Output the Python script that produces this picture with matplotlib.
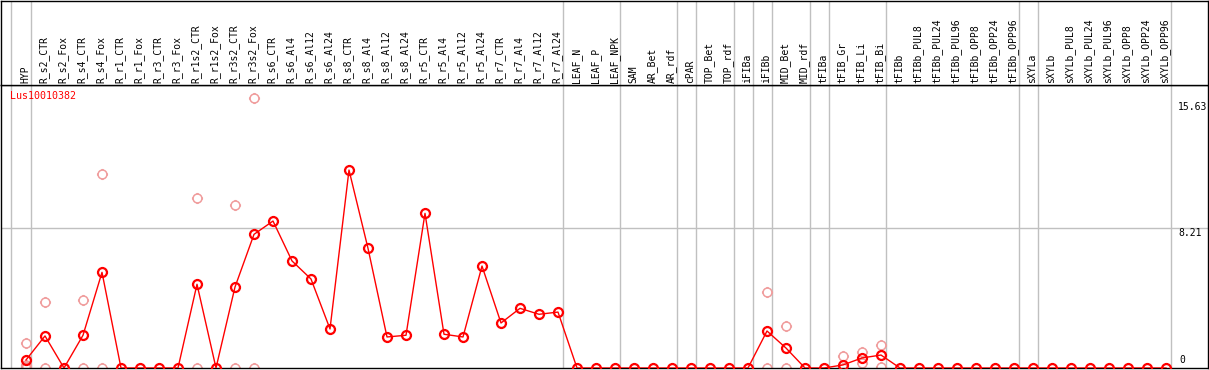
import matplotlib
matplotlib.use("Agg")
import matplotlib.pyplot as plt
from matplotlib.path import Path
from matplotlib.transforms import blended_transform_factory

# ---------------- data ----------------
categories = [
    "HYP", "R_s2_CTR", "R_s2_Fox", "R_s4_CTR", "R_s4_Fox", "R_r1_CTR", "R_r1_Fox",
    "R_r3_CTR", "R_r3_Fox", "R_r1s2_CTR", "R_r1s2_Fox", "R_r3s2_CTR", "R_r3s2_Fox",
    "R_s6_CTR", "R_s6_Al4", "R_s6_Al12", "R_s6_Al24", "R_s8_CTR", "R_s8_Al4",
    "R_s8_Al12", "R_s8_Al24", "R_r5_CTR", "R_r5_Al4", "R_r5_Al12", "R_r5_Al24",
    "R_r7_CTR", "R_r7_Al4", "R_r7_Al12", "R_r7_Al24", "LEAF_N", "LEAF_P", "LEAF_NPK",
    "SAM", "AR_Bet", "AR_rdf", "cPAR", "TOP_Bet", "TOP_rdf", "iFIBa", "iFIBb",
    "MID_Bet", "MID_rdf", "tFIBa", "tFIB_Gr", "tFIB_Li", "tFIB_Bi", "tFIBb",
    "tFIBb_PUL8", "tFIBb_PUL24", "tFIBb_PUL96", "tFIBb_OPP8", "tFIBb_OPP24",
    "tFIBb_OPP96", "sXYLa", "sXYLb", "sXYLb_PUL8", "sXYLb_PUL24", "sXYLb_PUL96",
    "sXYLb_OPP8", "sXYLb_OPP24", "sXYLb_OPP96",
]

mean_values = [
    0.47, 1.88, 0.0, 1.92, 5.61, 0.0, 0.0, 0.0, 0.0, 4.91, 0.0, 4.75, 7.84,
    8.62, 6.28, 5.22, 2.29, 11.61, 7.02, 1.82, 1.92, 9.07, 1.98, 1.82, 5.98,
    2.64, 3.50, 3.15, 3.28, 0.0, 0.0, 0.0,
    0.0, 0.0, 0.0, 0.0, 0.0, 0.0, 0.0, 2.17,
    1.17, 0.0, 0.0, 0.18, 0.59, 0.76, 0.0,
    0.0, 0.0, 0.0, 0.0, 0.0, 0.0, 0.0, 0.0,
    0.0, 0.0, 0.0, 0.0, 0.0, 0.0,
]

replicate_categories = [
    "HYP", "HYP", "HYP", "HYP",
    "R_s2_CTR", "R_s2_CTR", "R_s4_CTR", "R_s4_CTR", "R_s4_Fox", "R_s4_Fox",
    "R_r1s2_CTR", "R_r1s2_CTR", "R_r3s2_CTR", "R_r3s2_CTR", "R_r3s2_Fox", "R_r3s2_Fox",
    "iFIBb", "iFIBb", "MID_Bet", "MID_Bet",
    "tFIB_Gr", "tFIB_Gr", "tFIB_Li", "tFIB_Li", "tFIB_Bi", "tFIB_Bi",
]
replicate_values = [
    1.45, 0.20, 0.10, 0.0,
    3.85, 0.0, 3.99, 0.0, 11.36, 0.0,
    9.95, 0.0, 9.54, 0.0, 15.82, 0.0,
    4.46, 0.0, 2.44, 0.0,
    0.72, 0.0, 0.92, 0.30, 1.35, 0.08,
]

# last category of each separated group
group_ends = ["HYP", "R_r7_Al24", "LEAF_NPK", "AR_rdf", "cPAR", "TOP_rdf", "iFIBa",
              "iFIBb", "MID_rdf", "tFIBa", "tFIB_Bi", "tFIBb_OPP96", "sXYLa", "sXYLb_OPP96"]

y_tick_values = [15.63, 8.21, 0]
y_tick_labels = ["15.63", "8.21", "0"]
gene_name = "Lus10010382"

# ---------------- layout ----------------
W, H = 1209, 370
fig = plt.figure(figsize=(W / 100, H / 100), dpi=100)
fig.patch.set_facecolor("white")

def px_axes(x0, y0, x1, y1):
    return fig.add_axes([x0 / W, 1 - y1 / H, (x1 - x0) / W, (y1 - y0) / H])

ax = px_axes(1, 85, 1208, 368)
axt = px_axes(1, 0.5, 1208, 85)

x0_px, step_px = 26, 19
xlim = ((1 - x0_px) / step_px, (1208 - x0_px) / step_px)
px_per_unit = 17.05
ylim = (0, (368 - 85) / px_per_unit)

mono = "DejaVu Sans Mono"
grid_c = "#c0c0c0"
pink = "#f09c9c"

for a in (ax, axt):
    a.set_xlim(*xlim)
    a.set_xticks([])
    a.set_yticks([])
    for s in a.spines.values():
        s.set_color("black")
        s.set_linewidth(1.0)
ax.set_ylim(*ylim)
axt.set_ylim(0, 1)

idx = {c: i for i, c in enumerate(categories)}
boundaries = [-0.8] + [idx[c] + 0.25 for c in group_ends]
for a in (ax, axt):
    for b in boundaries:
        a.axvline(b, color=grid_c, lw=1.0, zorder=1)
ax.axhline(y_tick_values[1], color=grid_c, lw=1.0, zorder=1)

# marker: circle with four small ticks
circ = Path.unit_circle()
t = 1.25
tick_paths = [Path([[0, 1], [0, t]]), Path([[0, -1], [0, -t]]),
              Path([[1, 0], [t, 0]]), Path([[-1, 0], [-t, 0]])]
marker_path = Path.make_compound_path(circ, *tick_paths)

xs = list(range(len(categories)))
rx = [idx[c] for c in replicate_categories]
ax.plot(rx, replicate_values, ls="none", marker=marker_path, ms=8.0,
        mfc="none", mec=pink, mew=1.1, zorder=2)
ax.plot(xs, mean_values, color="red", lw=1.0, marker=marker_path, ms=8.0,
        mfc="none", mec="red", mew=1.6, zorder=3)

# category labels
tr = blended_transform_factory(axt.transData, axt.transAxes)
for i, c in enumerate(categories):
    axt.text(i - 0.05, 0.025, c, rotation=90, ha="center", va="bottom",
             fontsize=7, family=mono, transform=tr)

# right-side value labels
lab_x = idx[group_ends[-1]] + 0.65
ax.text(lab_x, y_tick_values[0], y_tick_labels[0], ha="left", va="top",
        fontsize=7, family=mono)
ax.text(lab_x, y_tick_values[1], y_tick_labels[1], ha="left", va="top",
        fontsize=7, family=mono)
ax.annotate(y_tick_labels[2], xy=(lab_x, y_tick_values[2]), xytext=(1, 3),
            textcoords="offset pixels", ha="left", va="bottom",
            fontsize=7, family=mono)

fig.text(10 / W, 1 - 91 / H, gene_name, color="red", fontsize=7.2,
         family=mono, ha="left", va="top")

fig.savefig("out.png", dpi=100)
